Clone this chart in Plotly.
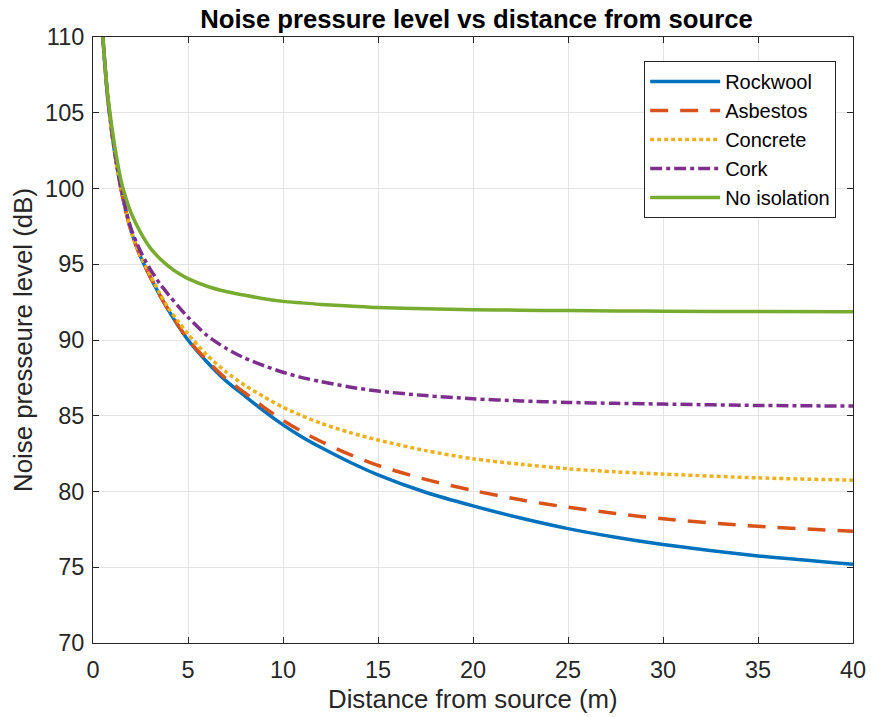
import plotly.graph_objects as go

distance = [0.5, 0.75, 1, 1.25, 1.5, 1.75, 2, 2.5, 3, 3.5, 4, 4.5, 5, 6, 7, 8, 9, 10, 11, 12,
            13.5, 15, 17.5, 20, 22.5, 25, 27.5, 30, 35, 40]

rockwool = [110.3, 106.3, 103.6, 101.5, 99.8, 98.4, 97.2, 95.5, 94.2, 93.0, 91.9, 90.9, 90.0,
            88.55, 87.3, 86.3, 85.3, 84.4, 83.6, 82.9, 81.95, 81.1, 79.95, 79.05, 78.25, 77.55,
            76.98, 76.5, 75.75, 75.2]
asbestos = [110.3, 106.3, 103.6, 101.5, 99.8, 98.4, 97.2, 95.5, 94.2, 93.0, 91.92, 90.95, 90.05,
            88.65, 87.45, 86.5, 85.55, 84.7, 83.95, 83.3, 82.45, 81.72, 80.8, 80.07, 79.45, 78.96,
            78.55, 78.2, 77.7, 77.38]
concrete = [110.3, 106.3, 103.6, 101.5, 99.8, 98.4, 97.2, 95.55, 94.3, 93.1, 92.05, 91.2, 90.4,
            89.0, 87.9, 87.0, 86.25, 85.56, 85.0, 84.5, 83.9, 83.4, 82.7, 82.16, 81.8, 81.5,
            81.3, 81.15, 80.9, 80.75]
cork = [110.3, 106.35, 103.7, 101.6, 99.9, 98.5, 97.35, 95.85, 94.7, 93.75, 92.95, 92.2, 91.5,
        90.3, 89.45, 88.8, 88.3, 87.87, 87.52, 87.25, 86.9, 86.63, 86.33, 86.12, 85.98, 85.88,
        85.82, 85.77, 85.68, 85.64]
no_isolation = [110.3, 106.5, 104.0, 102.0, 100.4, 99.3, 98.4, 97.1, 96.1, 95.4, 94.85, 94.4,
                94.05, 93.55, 93.2, 92.95, 92.72, 92.55, 92.45, 92.35, 92.25, 92.15, 92.06, 92.0,
                91.97, 91.94, 91.92, 91.9, 91.88, 91.87]

x_ticks = [0, 5, 10, 15, 20, 25, 30, 35, 40]
y_ticks = [70, 75, 80, 85, 90, 95, 100, 105, 110]

FONT = "Liberation Sans, Arial, Helvetica, sans-serif"
AX = "#262626"

fig = go.Figure()
series = [
    ("Rockwool", rockwool, "#0072BD", "solid"),
    ("Asbestos", asbestos, "#D95319", "18px,12px"),
    ("Concrete", concrete, "#EDB120", "4px,3px"),
    ("Cork", cork, "#7E2F8E", "12px,4px,4px,4px"),
    ("No isolation", no_isolation, "#77AC30", "solid"),
]
for name, ys, col, dash in series:
    fig.add_trace(go.Scatter(x=distance, y=ys, name=name, mode="lines",
                             line=dict(color=col, width=3.5, dash=dash, shape="spline", smoothing=0.8)))

axis_common = dict(
    showline=True, linecolor=AX, linewidth=1, mirror="ticks",
    ticks="inside", ticklen=6, tickcolor=AX,
    showgrid=True, gridcolor="#e3e3e3", gridwidth=1,
    zeroline=False, tickfont=dict(family=FONT, size=23.5, color=AX),
)

fig.update_layout(
    width=878, height=717,
    margin=dict(l=93, r=18, t=37, b=74),
    paper_bgcolor="white", plot_bgcolor="white",
    title=dict(text="<b>Noise pressure level vs distance from source</b>",
               x=(93 + 860) / 2 / 878, xanchor="center", y=1 - 19 / 717, yanchor="middle",
               font=dict(family=FONT, size=25.7, color="black")),
    xaxis=dict(range=[0, 40], tickvals=x_ticks, ticklabelstandoff=6, **axis_common),
    yaxis=dict(range=[70, 110], tickvals=y_ticks, ticklabelstandoff=3,
               title=dict(text="Noise presseure level (dB)", font=dict(family=FONT, size=25.8, color=AX),
                          standoff=5),
               **axis_common),
    legend=dict(x=(843 - 93) / 767, xanchor="right", y=(643 - 61) / 606, yanchor="top",
                bgcolor="white", bordercolor=AX, borderwidth=1,
                font=dict(family=FONT, size=20, color="black"),
                tracegroupgap=0, itemwidth=70),
    showlegend=True,
)
fig.add_annotation(text="Distance from source (m)", xref="paper", yref="paper",
                   x=0.5, y=(643 - 699) / 606, xanchor="center", yanchor="middle",
                   showarrow=False, font=dict(family=FONT, size=25.8, color=AX))

fig.write_html("out.html")
